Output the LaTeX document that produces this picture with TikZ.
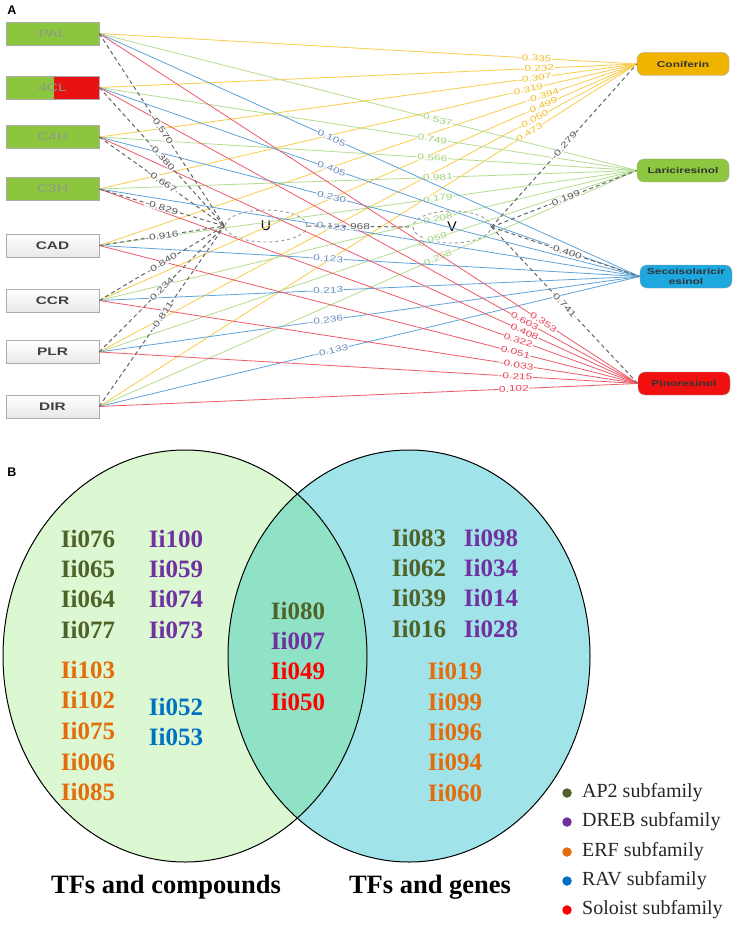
\documentclass[tikz,border=0pt]{standalone}
\usepackage{fontspec}
\setmainfont{Liberation Serif}
\newfontfamily\widesans[FakeStretch=1.4]{Liberation Sans}
\newfontfamily\panelsans{Liberation Sans}
\usetikzlibrary{shapes.geometric, positioning, calc}

\definecolor{boxgreen}{HTML}{8CC63F}
\definecolor{boxred}{HTML}{E81212}
\definecolor{genetxt}{HTML}{8E9A86}
\definecolor{cmpyel}{HTML}{F0B400}
\definecolor{cmpgrn}{HTML}{8DC63F}
\definecolor{cmpblu}{HTML}{1DA8E0}
\definecolor{cmpred}{HTML}{F01010}
\definecolor{lny}{HTML}{F7CD4A}
\definecolor{lng}{HTML}{B5DC8F}
\definecolor{lnb}{HTML}{5FA3D8}
\definecolor{lnr}{HTML}{EE5A66}
\definecolor{txy}{HTML}{F0C030}
\definecolor{txg}{HTML}{A4D17A}
\definecolor{txb}{HTML}{6F8FBF}
\definecolor{txr}{HTML}{E8465A}
\definecolor{vennl}{HTML}{DCF8D2}
\definecolor{vennr}{HTML}{A0E4EA}
\definecolor{venno}{HTML}{90E2C6}
\definecolor{apii}{HTML}{4F6228}
\definecolor{dreb}{HTML}{7030A0}
\definecolor{erf}{HTML}{E46C0A}
\definecolor{rav}{HTML}{0070C0}
\definecolor{solo}{HTML}{FF0000}

\begin{document}
\begin{tikzpicture}[x=1pt, y=-1pt,
    gene/.style={rectangle, draw=gray!65, minimum width=93pt, minimum height=23pt, inner sep=0pt, font=\widesans\fontsize{11}{11}\selectfont},
    ggene/.style={gene, fill=boxgreen, text=genetxt},
    wgene/.style={gene, top color=white, bottom color=gray!18, text=black!75, font=\widesans\bfseries\fontsize{11}{11}\selectfont},
    cmpd/.style={rectangle, rounded corners=7pt, draw=gray!70, minimum width=92pt, minimum height=23pt, inner sep=1pt, align=center, text=black!80, font=\widesans\bfseries\fontsize{8.5}{9.5}\selectfont},
    hub/.style={ellipse, draw=gray!80, dashed, line width=0.9pt, minimum height=32pt, font=\panelsans\fontsize{14}{14}\selectfont},
    toy/.style={draw=lny, line width=0.8pt},
    tog/.style={draw=lng, line width=0.8pt},
    tob/.style={draw=lnb, line width=0.8pt},
    tor/.style={draw=lnr, line width=0.8pt},
    corr/.style={draw=black!60, line width=1pt, dash pattern=on 4pt off 3pt},
    val/.style={sloped, fill=white, fill opacity=0.85, text opacity=1, inner sep=0.6pt, font=\widesans\fontsize{8.5}{8.5}\selectfont},
    cval/.style={val, text=black!65},
    tf/.style={font=\bfseries\fontsize{25}{25}\selectfont},
    dot/.style={circle, inner sep=0pt, minimum size=9.5pt},
    leg/.style={inner sep=0pt, text=black!85, font=\fontsize{20}{20}\selectfont}]

    \fill[white] (0,0) rectangle (741,928);
    \useasboundingbox (0,0) rectangle (741,928);

    % panel A
    \node (lbl_a) [font=\panelsans\bfseries\fontsize{12.5}{12.5}\selectfont] at (12,10) {A};

    \node (pal) [ggene] at (52.5,33.5) {PAL};
    \node (fourcl) [ggene, path picture={\fill[boxred] ($(path picture bounding box.north)+(1.5pt,0)$) rectangle (path picture bounding box.south east);}] at (52.5,87.5) {4CL};
    \node (c4h) [ggene] at (52.5,137) {C4H};
    \node (c3h) [ggene] at (52.5,189) {C3H};
    \node (cad) [wgene] at (52.5,245.5) {CAD};
    \node (ccr) [wgene] at (52.5,300.5) {CCR};
    \node (plr) [wgene] at (52.5,352) {PLR};
    \node (dir) [wgene] at (52.5,406.5) {DIR};

    \node (conif) [cmpd, fill=cmpyel] at (683,64) {Coniferin};
    \node (laric) [cmpd, fill=cmpgrn] at (683,170.5) {Lariciresinol};
    \node (secoi) [cmpd, fill=cmpblu] at (686,276.5) {Secoisolaricir\\esinol};
    \node (pinor) [cmpd, fill=cmpred] at (684,383.5) {Pinoresinol};

    \node (hubu) [hub, minimum width=82pt] at (266,226) {U};
    \node (hubv) [hub, minimum width=78pt] at (452,227) {V};

    % genes to Coniferin
    \draw[toy] (pal.east) -- node[val, text=txy, pos=.81] {-0.335} (conif.west);
    \draw[toy] (fourcl.east) -- node[val, text=txy, pos=.815] {-0.232} (conif.west);
    \draw[toy] (c4h.east) -- node[val, text=txy, pos=.81] {-0.307} (conif.west);
    \draw[toy] (c3h.east) -- node[val, text=txy, pos=.795] {-0.319} (conif.west);
    \draw[toy] (cad.east) -- node[val, text=txy, pos=.825] {-0.394} (conif.west);
    \draw[toy] (ccr.east) -- node[val, text=txy, pos=.823] {-0.499} (conif.west);
    \draw[toy] (plr.east) -- node[val, text=txy, pos=.807] {-0.050} (conif.west);
    \draw[toy] (dir.east) -- node[val, text=txy, pos=.797] {-0.473} (conif.west);

    % genes to Lariciresinol
    \draw[tog] (pal.east) -- node[val, text=txg, pos=.63] {0.537} (laric.west);
    \draw[tog] (fourcl.east) -- node[val, text=txg, pos=.62] {0.749} (laric.west);
    \draw[tog] (c4h.east) -- node[val, text=txg, pos=.62] {0.566} (laric.west);
    \draw[tog] (c3h.east) -- node[val, text=txg, pos=.63] {0.981} (laric.west);
    \draw[tog] (cad.east) -- node[val, text=txg, pos=.63] {0.179} (laric.west);
    \draw[tog] (ccr.east) -- node[val, text=txg, pos=.63] {0.208} (laric.west);
    \draw[tog] (plr.east) -- node[val, text=txg, pos=.62] {0.059} (laric.west);
    \draw[tog] (dir.east) -- node[val, text=txg, pos=.63] {0.258} (laric.west);

    % genes to Secoisolariciresinol
    \draw[tob] (pal.east) -- node[val, text=txb, pos=.43] {0.105} (secoi.west);
    \draw[tob] (fourcl.east) -- node[val, text=txb, pos=.43] {0.405} (secoi.west);
    \draw[tob] (c4h.east) -- node[val, text=txb, pos=.43] {0.230} (secoi.west);
    \draw[tob] (c3h.east) -- node[val, text=txb, pos=.43] {0.123} (secoi.west);
    \draw[tob] (cad.east) -- node[val, text=txb, pos=.42] {-0.123} (secoi.west);
    \draw[tob] (ccr.east) -- node[val, text=txb, pos=.42] {-0.213} (secoi.west);
    \draw[tob] (plr.east) -- node[val, text=txb, pos=.42] {-0.236} (secoi.west);
    \draw[tob] (dir.east) -- node[val, text=txb, pos=.43] {-0.133} (secoi.west);

    % genes to Pinoresinol
    \draw[tor] (pal.east) -- node[val, text=txr, pos=.825] {0.353} (pinor.west);
    \draw[tor] (fourcl.east) -- node[val, text=txr, pos=.79] {0.603} (pinor.west);
    \draw[tor] (c4h.east) -- node[val, text=txr, pos=.79] {0.408} (pinor.west);
    \draw[tor] (c3h.east) -- node[val, text=txr, pos=.778] {0.322} (pinor.west);
    \draw[tor] (cad.east) -- node[val, text=txr, pos=.773] {0.051} (pinor.west);
    \draw[tor] (ccr.east) -- node[val, text=txr, pos=.775] {-0.033} (pinor.west);
    \draw[tor] (plr.east) -- node[val, text=txr, pos=.773] {-0.215} (pinor.west);
    \draw[tor] (dir.east) -- node[val, text=txr, pos=.77] {0.102} (pinor.west);

    % canonical correlations
    \draw[corr] (pal.east) -- node[cval] {-0.570} (hubu.west);
    \draw[corr] (fourcl.east) -- node[cval] {-0.380} (hubu.west);
    \draw[corr] (c4h.east) -- node[cval] {-0.667} (hubu.west);
    \draw[corr] (c3h.east) -- node[cval] {-0.829} (hubu.west);
    \draw[corr] (cad.east) -- node[cval] {-0.916} (hubu.west);
    \draw[corr] (ccr.east) -- node[cval] {-0.840} (hubu.west);
    \draw[corr] (plr.east) -- node[cval] {0.234} (hubu.west);
    \draw[corr] (dir.east) -- node[cval] {-0.811} (hubu.west);
    \draw[corr] (hubu.east) -- node[cval] {968} (hubv.west);
    \draw[corr] (hubv.east) -- node[cval] {-0.279} (conif.west);
    \draw[corr] (hubv.east) -- node[cval] {-0.199} (laric.west);
    \draw[corr] (hubv.east) -- node[cval] {-0.400} (secoi.west);
    \draw[corr] (hubv.east) -- node[cval] {0.741} (pinor.west);

    % panel B
    \node (lbl_b) [font=\panelsans\bfseries\fontsize{12.5}{12.5}\selectfont] at (12,472) {B};

    \fill[vennl] (185,656) ellipse [x radius=182pt, y radius=206pt];
    \fill[vennr] (409,656) ellipse [x radius=181pt, y radius=206pt];
    \begin{scope}
        \clip (185,656) ellipse [x radius=182pt, y radius=206pt];
        \fill[venno] (409,656) ellipse [x radius=181pt, y radius=206pt];
    \end{scope}
    \draw[line width=1pt] (185,656) ellipse [x radius=182pt, y radius=206pt];
    \draw[line width=1pt] (409,656) ellipse [x radius=181pt, y radius=206pt];

    \node (ii076) [tf, text=apii] at (88,539) {Ii076};
    \node (ii065) [tf, text=apii] at (88,569) {Ii065};
    \node (ii064) [tf, text=apii] at (88,599) {Ii064};
    \node (ii077) [tf, text=apii] at (88,630) {Ii077};
    \node (ii103) [tf, text=erf] at (88,670) {Ii103};
    \node (ii102) [tf, text=erf] at (88,700) {Ii102};
    \node (ii075) [tf, text=erf] at (88,731) {Ii075};
    \node (ii006) [tf, text=erf] at (88,762) {Ii006};
    \node (ii085) [tf, text=erf] at (88,792) {Ii085};
    \node (ii100) [tf, text=dreb] at (176,539) {Ii100};
    \node (ii059) [tf, text=dreb] at (176,569) {Ii059};
    \node (ii074) [tf, text=dreb] at (176,599) {Ii074};
    \node (ii073) [tf, text=dreb] at (176,630) {Ii073};
    \node (ii052) [tf, text=rav] at (176,707) {Ii052};
    \node (ii053) [tf, text=rav] at (176,737) {Ii053};

    \node (ii080) [tf, text=apii] at (298,611) {Ii080};
    \node (ii007) [tf, text=dreb] at (298,641) {Ii007};
    \node (ii049) [tf, text=solo] at (298,671) {Ii049};
    \node (ii050) [tf, text=solo] at (298,702) {Ii050};

    \node (ii083) [tf, text=apii] at (419,538) {Ii083};
    \node (ii062) [tf, text=apii] at (419,568) {Ii062};
    \node (ii039) [tf, text=apii] at (419,598) {Ii039};
    \node (ii016) [tf, text=apii] at (419,629) {Ii016};
    \node (ii098) [tf, text=dreb] at (491,538) {Ii098};
    \node (ii034) [tf, text=dreb] at (491,568) {Ii034};
    \node (ii014) [tf, text=dreb] at (491,598) {Ii014};
    \node (ii028) [tf, text=dreb] at (491,629) {Ii028};
    \node (ii019) [tf, text=erf] at (455,671) {Ii019};
    \node (ii099) [tf, text=erf] at (455,702) {Ii099};
    \node (ii096) [tf, text=erf] at (455,732) {Ii096};
    \node (ii094) [tf, text=erf] at (455,762) {Ii094};
    \node (ii060) [tf, text=erf] at (455,793) {Ii060};

    \node (set_cmp) [font=\bfseries\fontsize{26.5}{26.5}\selectfont] at (166,887) {TFs and compounds};
    \node (set_gen) [font=\bfseries\fontsize{26.5}{26.5}\selectfont] at (430,887) {TFs and genes};

    \node (dot_ap2) [dot, fill=apii] at (567,793) {};
    \node (dot_dreb) [dot, fill=dreb] at (567,822) {};
    \node (dot_erf) [dot, fill=erf] at (567,852) {};
    \node (dot_rav) [dot, fill=rav] at (567,881) {};
    \node (dot_solo) [dot, fill=solo] at (567,910) {};
    \node [leg, right=10pt of dot_ap2] {AP2 subfamily};
    \node [leg, right=10pt of dot_dreb] {DREB subfamily};
    \node [leg, right=10pt of dot_erf] {ERF subfamily};
    \node [leg, right=10pt of dot_rav] {RAV subfamily};
    \node [leg, right=10pt of dot_solo] {Soloist subfamily};

\end{tikzpicture}
\end{document}
